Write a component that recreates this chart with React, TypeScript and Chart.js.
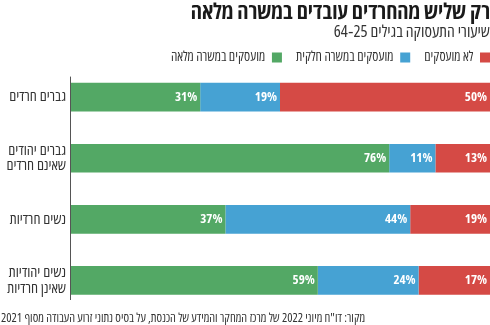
import { useEffect, useRef } from "react";
import { Chart, registerables } from "chart.js";

Chart.register(...registerables);

const TITLE = "רק שליש מהחרדים עובדים במשרה מלאה";
const SUBTITLE = "שיעורי התעסוקה בגילים 25‐64";
const SOURCE =
  'מקור: דו"ח מיוני 2022 של מרכז המחקר והמידע של הכנסת, על בסיס נתוני זרוע העבודה מסוף 2021';

const CATEGORIES: (string | string[])[] = [
  "גברים חרדים",
  ["גברים יהודים", "שאינם חרדים"],
  "נשים חרדיות",
  ["נשים יהודיות", "שאינן חרדיות"],
];
const SERIES_NAMES = ["מועסקים במשרה מלאה", "מועסקים במשרה חלקית", "לא מועסקים"];
const FULL_TIME = [31, 76, 37, 59];
const PART_TIME = [19, 11, 44, 24];
const NOT_EMPLOYED = [50, 13, 19, 17];
const COLORS = ["#53a865", "#46a2d3", "#d54a45"];

const FONT = "'Open Sans', 'Liberation Sans', sans-serif";
const LEGEND_PAD = 14;

const valueLabels = {
  id: "valueLabels",
  afterDatasetsDraw(chart: any) {
    const ctx = chart.ctx;
    ctx.save();
    ctx.font = `bold semi-condensed 13px ${FONT}`;
    ctx.fillStyle = "#ffffff";
    ctx.textAlign = "right";
    ctx.textBaseline = "middle";
    chart.data.datasets.forEach((ds: any, i: number) => {
      const meta = chart.getDatasetMeta(i);
      meta.data.forEach((bar: any, j: number) => {
        const { x, y } = bar.getProps(["x", "y"], true);
        ctx.fillText(`${ds.data[j]}%`, x - 3, y);
      });
    });
    ctx.restore();
  },
};

const axisAndSource = {
  id: "axisAndSource",
  afterLayout(chart: any) {
    if (chart.legend) {
      chart.legend.left += LEGEND_PAD;
      chart.legend.right += LEGEND_PAD;
    }
  },
  afterDraw(chart: any) {
    const ctx = chart.ctx;
    const area = chart.chartArea;
    ctx.save();
    ctx.strokeStyle = "#555555";
    ctx.lineWidth = 1;
    ctx.beginPath();
    ctx.moveTo(area.left + 0.5, area.top + 10);
    ctx.lineTo(area.left + 0.5, area.bottom - 11);
    ctx.stroke();
    ctx.font = `semi-condensed 12.4px ${FONT}`;
    ctx.fillStyle = "#333333";
    ctx.textAlign = "left";
    ctx.textBaseline = "middle";
    ctx.fillText(SOURCE, 1, chart.height - 7);
    ctx.restore();
  },
};

export default function App() {
  const ref = useRef<HTMLCanvasElement>(null);
  useEffect(() => {
    if (!ref.current) return;
    const datasets = [FULL_TIME, PART_TIME, NOT_EMPLOYED].map((d, i) => ({
      label: SERIES_NAMES[i],
      data: d,
      backgroundColor: COLORS[i],
      borderWidth: 0,
      barPercentage: 0.47,
      categoryPercentage: 1,
    }));
    const chart = new Chart(ref.current, {
      type: "bar",
      data: { labels: CATEGORIES, datasets },
      options: {
        animation: false,
        responsive: false,
        indexAxis: "y",
        layout: { padding: { top: 0, bottom: 14, left: 0, right: 0 } },
        plugins: {
          tooltip: { enabled: false },
          title: {
            display: true,
            text: TITLE,
            align: "end",
            color: "#1a1a1a",
            font: { family: FONT, size: 22, weight: "bold semi-condensed", lineHeight: 1 },
            padding: { top: 2, bottom: 0 },
          },
          subtitle: {
            display: true,
            text: SUBTITLE,
            align: "end",
            color: "#333333",
            font: { family: FONT, size: 16.6, weight: "normal semi-condensed", lineHeight: 1 },
            padding: { top: 0, bottom: -4 },
          },
          legend: {
            position: "top",
            align: "start",
            rtl: true,
            reverse: true,
            maxHeight: 30,
            labels: {
              boxWidth: 10,
              boxHeight: 10,
              padding: LEGEND_PAD,
              color: "#333333",
              font: { family: FONT, size: 13.6, weight: "normal semi-condensed" },
            },
          },
        },
        scales: {
          x: { display: false, stacked: true, min: 0, max: 100 },
          y: {
            stacked: true,
            grid: { display: false, drawTicks: false },
            border: { display: false },
            ticks: {
              color: "#333333",
              font: { family: FONT, size: 15, weight: "normal semi-condensed", lineHeight: 1.05 },
              padding: 4,
            },
            afterFit(scale: any) {
              scale.width = 70;
            },
          },
        },
      },
      plugins: [valueLabels, axisAndSource],
    });
    return () => chart.destroy();
  }, []);
  return (
    <canvas
      ref={ref}
      width={490}
      height={325}
      style={{ position: "absolute", left: 0, top: 0, width: 490, height: 325 }}
    />
  );
}
